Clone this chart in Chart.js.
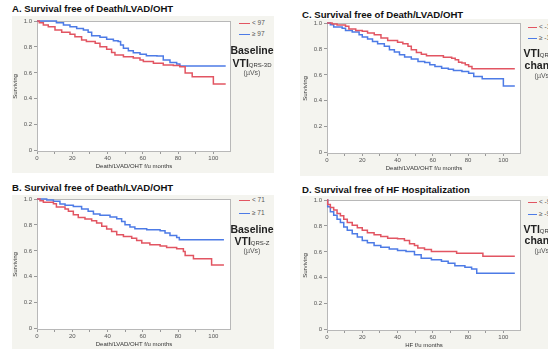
<!DOCTYPE html>
<html>
<head>
<meta charset="utf-8">
<script src="https://cdn.jsdelivr.net/npm/chart.js@4.4.0/dist/chart.umd.min.js"></script>
<style>
  body { margin: 0; width: 548px; height: 349px; overflow: hidden; background: #fff; position: relative;
         font-family: "Liberation Sans", Arial, sans-serif; }
  .panel { position: absolute; background: #f4f4ef; }
  .title { position: absolute; font-weight: bold; font-size: 9.6px; line-height: 11px; color: #111; white-space: nowrap; }
  canvas { position: absolute; }
  .leg { position: absolute; font-size: 6.5px; line-height: 8px; color: #555; white-space: nowrap; }
  .leg i { display: inline-block; width: 11px; height: 1.5px; vertical-align: middle; margin-right: 2px; }
  .note { position: absolute; width: 80px; text-align: center; white-space: nowrap; color: #222; }
  .big { font-weight: bold; font-size: 10.5px; line-height: 12px; }
  .big sub { font-size: 6px; vertical-align: baseline; font-weight: normal; color: #333; }
  .unit { font-size: 7px; line-height: 9px; color: #555; }
</style>
</head>
<body>
<div class="panel" style="left:12px;top:16px;width:262px;height:157px"></div>
<div class="panel" style="left:12px;top:195px;width:262px;height:154px"></div>
<div class="panel" style="left:300px;top:19px;width:248px;height:157px"></div>
<div class="panel" style="left:300px;top:196px;width:248px;height:153px"></div>

<div class="title" style="left:12px;top:3px">A. Survival free of Death/LVAD/OHT</div>
<div class="title" style="left:12px;top:182px">B. Survival free of Death/LVAD/OHT</div>
<div class="title" style="left:302px;top:9px">C. Survival free of Death/LVAD/OHT</div>
<div class="title" style="left:302px;top:184px">D. Survival free of HF Hospitalization</div>

<canvas id="chartA" width="235" height="176" style="left:0px;top:0px"></canvas>
<canvas id="chartB" width="235" height="176" style="left:0px;top:178px"></canvas>
<canvas id="chartC" width="235" height="176" style="left:290px;top:2px"></canvas>
<canvas id="chartD" width="235" height="176" style="left:290px;top:179px"></canvas>

<!-- legends -->
<div class="leg" style="left:239px;top:19px"><i style="background:#e25562"></i>&lt; 97</div>
<div class="leg" style="left:239px;top:30px"><i style="background:#4d7be6"></i>&ge; 97</div>
<div class="leg" style="left:239px;top:196px"><i style="background:#e25562"></i>&lt; 71</div>
<div class="leg" style="left:239px;top:209px"><i style="background:#4d7be6"></i>&ge; 71</div>
<div class="leg" style="left:528px;top:23px"><i style="width:9px;background:#e25562"></i>&lt; -13</div>
<div class="leg" style="left:528px;top:34px"><i style="width:9px;background:#4d7be6"></i>&ge; -13</div>
<div class="leg" style="left:528px;top:198px"><i style="width:9px;background:#e25562"></i>&lt; -9</div>
<div class="leg" style="left:528px;top:210px"><i style="width:9px;background:#4d7be6"></i>&ge; -9</div>

<!-- side notes -->
<div class="note big" style="left:212px;top:44px">Baseline</div>
<div class="note big" style="left:212px;top:57px">VTI<sub>QRS-3D</sub></div>
<div class="note unit" style="left:212px;top:68px">(&micro;Vs)</div>

<div class="note big" style="left:212px;top:223px">Baseline</div>
<div class="note big" style="left:212px;top:235px">VTI<sub>QRS-Z</sub></div>
<div class="note unit" style="left:212px;top:246px">(&micro;Vs)</div>

<div class="note big" style="left:503px;top:47px">VTI<sub>QRS-3D</sub></div>
<div class="note big" style="left:503px;top:59px">change</div>
<div class="note unit" style="left:503px;top:71px">(&micro;Vs)</div>

<div class="note big" style="left:503px;top:223px">VTI<sub>QRS-3D</sub></div>
<div class="note big" style="left:503px;top:234px">change</div>
<div class="note unit" style="left:503px;top:246px">(&micro;Vs)</div>

<script>
// Panel A: baseline VTI QRS-3D (< 97 vs >= 97)
const aLowT  = [0, 1.3, 3.6, 6.4, 10.2, 14, 18.7, 21.5, 25.3, 28, 33, 35.7, 39.5, 42.3, 44.2, 49, 54.6, 58.4, 60.3, 66, 71.6, 77.3, 81, 84, 88, 100, 107];
const aLowS  = [1, 0.987, 0.97, 0.956, 0.93, 0.913, 0.897, 0.879, 0.853, 0.841, 0.828, 0.802, 0.782, 0.758, 0.738, 0.725, 0.715, 0.70, 0.687, 0.674, 0.661, 0.656, 0.648, 0.60, 0.57, 0.515, 0.515];
const aHighT = [0, 9, 11, 15, 18.7, 22.5, 26.3, 29, 31, 35.7, 39.5, 43.3, 46, 47.4, 49, 51.8, 54.6, 58.4, 62, 68, 71.6, 75.4, 79.2, 81, 107];
const aHighS = [1, 1, 0.987, 0.97, 0.956, 0.943, 0.93, 0.913, 0.887, 0.874, 0.859, 0.848, 0.841, 0.815, 0.789, 0.771, 0.756, 0.743, 0.733, 0.73, 0.699, 0.681, 0.668, 0.653, 0.653];

// Panel B: baseline VTI QRS-Z (< 71 vs >= 71)
const bLowT  = [0, 1.7, 3.6, 9.3, 11, 15.9, 17.8, 20.6, 23.4, 27.2, 31, 33.8, 36.7, 39.5, 42.3, 45.2, 49, 53.7, 56.5, 59.4, 64, 69.8, 73.5, 79.2, 83, 84, 88.7, 99, 106];
const bLowS  = [1, 0.987, 0.974, 0.964, 0.938, 0.923, 0.905, 0.879, 0.858, 0.845, 0.832, 0.814, 0.789, 0.768, 0.75, 0.724, 0.711, 0.698, 0.68, 0.66, 0.647, 0.637, 0.626, 0.616, 0.595, 0.564, 0.539, 0.492, 0.492];
const bHighT = [0, 5.5, 9.3, 13, 15.9, 20.6, 25.3, 29, 32, 35.7, 41.4, 45.2, 48, 49.9, 52.7, 55.5, 62.2, 69.8, 72.6, 75.4, 79.2, 80.7, 106];
const bHighS = [1, 0.992, 0.982, 0.961, 0.951, 0.943, 0.923, 0.905, 0.884, 0.874, 0.861, 0.848, 0.827, 0.802, 0.784, 0.771, 0.763, 0.755, 0.737, 0.719, 0.704, 0.686, 0.686];

// Panel C: VTI change, death/LVAD/OHT
const cLowT  = [0, 2.9, 5.7, 10.5, 12.4, 16.3, 20, 23, 26.8, 30.6, 34.4, 40, 43, 45.9, 47.8, 50.7, 53.5, 56.4, 66, 70.7, 72.7, 74.6, 76.5, 78.4, 80.3, 82.2, 106.5];
const cLowS  = [1, 0.992, 0.985, 0.974, 0.954, 0.943, 0.936, 0.923, 0.91, 0.884, 0.866, 0.851, 0.84, 0.82, 0.794, 0.773, 0.76, 0.747, 0.735, 0.729, 0.716, 0.698, 0.691, 0.678, 0.665, 0.647, 0.647];
const cHighT = [0, 1.9, 3.8, 8.6, 10.5, 14.3, 18.2, 20, 23, 25.8, 28.7, 32.5, 35.4, 38.2, 41.1, 44, 47.8, 51.6, 55.4, 58.3, 61.2, 65, 68.8, 71.7, 76.5, 80.3, 83.2, 88, 100, 106.5];
const cHighS = [1, 0.987, 0.969, 0.959, 0.943, 0.93, 0.91, 0.892, 0.876, 0.858, 0.84, 0.82, 0.794, 0.776, 0.755, 0.737, 0.722, 0.704, 0.696, 0.678, 0.665, 0.652, 0.644, 0.634, 0.626, 0.613, 0.588, 0.57, 0.515, 0.515];

// Panel D: VTI change, HF hospitalization
const dLowT  = [0, 0.4, 1.9, 3.8, 5.7, 7.6, 9.5, 11.5, 14.3, 17.2, 20, 22.9, 26.7, 30.5, 34.4, 40, 43.9, 46.8, 49.6, 51.5, 55.3, 59.2, 73.5, 88.4, 106.5];
const dLowS  = [1, 0.966, 0.943, 0.922, 0.896, 0.878, 0.852, 0.826, 0.805, 0.787, 0.766, 0.748, 0.732, 0.719, 0.706, 0.701, 0.688, 0.662, 0.649, 0.629, 0.618, 0.603, 0.59, 0.566, 0.566];
const dHighT = [0, 0.4, 1.9, 3.8, 5.7, 7.6, 9.5, 11.5, 14.3, 17.2, 20, 22.9, 26.7, 30.5, 35.3, 40, 44.8, 49.6, 53.4, 59.2, 64.9, 68.7, 72.5, 78.2, 82, 84.9, 106.5];
const dHighS = [1, 0.948, 0.909, 0.883, 0.852, 0.826, 0.792, 0.766, 0.74, 0.714, 0.688, 0.67, 0.649, 0.636, 0.623, 0.61, 0.603, 0.577, 0.551, 0.54, 0.527, 0.512, 0.494, 0.481, 0.468, 0.436, 0.436];

const xTicks = [0, 10, 20, 30, 40, 50, 60, 70, 80, 90, 100];
const yTicks = [0, 0.2, 0.4, 0.6, 0.8, 1.0];

const RED = '#e25562';
const BLUE = '#4d7be6';

Chart.defaults.font.family = '"Liberation Sans", Arial, sans-serif';

// white plot area with grey frame
const frame = {
  id: 'frame',
  beforeDraw(chart) {
    const { ctx, chartArea: a } = chart;
    ctx.save();
    ctx.fillStyle = '#fff';
    ctx.fillRect(a.left, a.top, a.width, a.height);
    ctx.restore();
  },
  beforeDatasetsDraw(chart) {
    const { ctx, chartArea: a } = chart;
    ctx.save();
    ctx.strokeStyle = '#b8b8b8';
    ctx.lineWidth = 1;
    ctx.strokeRect(a.left + 0.5, a.top + 0.5, a.width - 1, a.height - 1);
    ctx.restore();
  }
};

const pts = (t, s) => t.map((v, i) => ({ x: v, y: s[i] }));

function kmChart(id, lowT, lowS, highT, highS, xTitle) {
  const line = (t, s, c) => ({
    data: pts(t, s), borderColor: c, borderWidth: 1.5, stepped: true,
    pointRadius: 0, fill: false, clip: false
  });
  new Chart(document.getElementById(id), {
    type: 'line',
    data: { datasets: [line(lowT, lowS, RED), line(highT, highS, BLUE)] },
    options: {
      responsive: false,
      animation: false,
      layout: { padding: { top: 21, right: 4, left: 0, bottom: 0 } },
      plugins: { legend: { display: false }, tooltip: { enabled: false } },
      scales: {
        x: {
          type: 'linear', min: 0, max: 110,
          afterBuildTicks: s => { s.ticks = xTicks.map(v => ({ value: v })); },
          afterFit: s => { s.height = 24; },
          border: { display: false },
          grid: { drawOnChartArea: false, tickLength: 2, color: '#999' },
          ticks: { font: { size: 6 }, color: '#555', padding: 0.5, maxRotation: 0, autoSkip: false,
                   callback: v => (v % 20 === 0 ? v : '') },
          title: { display: true, text: xTitle, font: { size: 6 }, color: '#333', padding: { top: 0, bottom: 6 } }
        },
        y: {
          min: -0.01, max: 1,
          afterBuildTicks: s => { s.ticks = yTicks.map(v => ({ value: v })); },
          afterFit: s => { s.width = 37; },
          border: { display: false },
          grid: { drawOnChartArea: false, tickLength: 3, color: '#999' },
          ticks: { font: { size: 6 }, color: '#555', padding: 2,
                   callback: v => (v === 0 ? '0' : v.toFixed(1)) },
          title: { display: true, text: 'Surviving', font: { size: 6 }, color: '#333', padding: { top: 12, bottom: 0 } }
        }
      }
    },
    plugins: [frame]
  });
}

kmChart('chartA', aLowT, aLowS, aHighT, aHighS, 'Death/LVAD/OHT f/u months');
kmChart('chartB', bLowT, bLowS, bHighT, bHighS, 'Death/LVAD/OHT f/u months');
kmChart('chartC', cLowT, cLowS, cHighT, cHighS, 'Death/LVAD/OHT f/u months');
kmChart('chartD', dLowT, dLowS, dHighT, dHighS, 'HF f/u months');
</script>
</body>
</html>
